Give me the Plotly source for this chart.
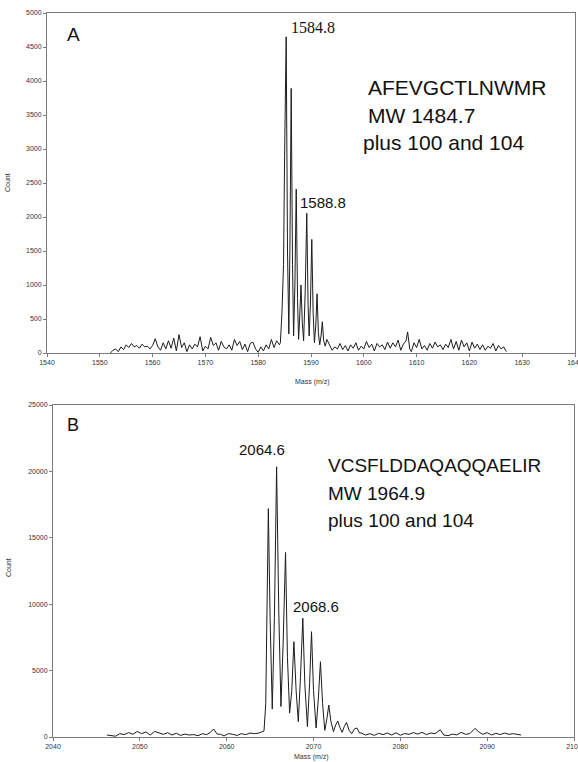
import plotly.graph_objects as go

# ---------------- Panel A data (m/z vs count) ----------------
mass_a = [
    1552.0, 1552.5, 1553.0, 1553.5, 1554.0, 1554.5, 1555.0, 1555.5, 1556.0, 1556.5,
    1557.0, 1557.5, 1558.0, 1558.5, 1559.0, 1559.5, 1560.0, 1560.5, 1561.0, 1561.5,
    1562.0, 1562.5, 1563.0, 1563.5, 1564.0, 1564.5, 1565.0, 1565.5, 1566.0, 1566.5,
    1567.0, 1567.5, 1568.0, 1568.5, 1569.0, 1569.5, 1570.0, 1570.5, 1571.0, 1571.5,
    1572.0, 1572.5, 1573.0, 1573.5, 1574.0, 1574.5, 1575.0, 1575.5, 1576.0, 1576.5,
    1577.0, 1577.5, 1578.0, 1578.5, 1579.0, 1579.5, 1580.0, 1580.5, 1581.0, 1581.5,
    1582.0, 1582.5, 1583.0, 1583.5, 1584.0,
    1584.2, 1584.5, 1584.8, 1585.0, 1585.3, 1585.55, 1585.8, 1586.0, 1586.25, 1586.5,
    1586.7, 1586.95, 1587.2, 1587.45, 1587.65, 1587.85, 1588.1, 1588.35, 1588.6, 1588.9,
    1589.2, 1589.45, 1589.65, 1589.9, 1590.15, 1590.4, 1590.65, 1590.9, 1591.15, 1591.4,
    1591.65, 1591.9, 1592.15, 1592.4, 1592.7, 1593.0,
    1593.5, 1594.0, 1594.5, 1595.0, 1595.5, 1596.0, 1596.5, 1597.0, 1597.5, 1598.0,
    1598.5, 1599.0, 1599.5, 1600.0, 1600.5, 1601.0, 1601.5, 1602.0, 1602.5, 1603.0,
    1603.5, 1604.0, 1604.5, 1605.0, 1605.5, 1606.0, 1606.5, 1607.0, 1607.5, 1608.0,
    1608.3, 1608.7, 1609.0, 1609.5, 1610.0, 1610.5, 1611.0, 1611.5, 1612.0, 1612.5,
    1613.0, 1613.5, 1614.0, 1614.5, 1615.0, 1615.5, 1616.0, 1616.5, 1617.0, 1617.5,
    1618.0, 1618.5, 1619.0, 1619.5, 1620.0, 1620.5, 1621.0, 1621.5, 1622.0, 1622.5,
    1623.0, 1623.5, 1624.0, 1624.5, 1625.0, 1625.5, 1626.0, 1626.5, 1627.0,
]
count_a = [
    0, 40, 60, 20, 90, 50, 120, 80, 140, 90,
    110, 70, 130, 90, 100, 60, 110, 210, 90, 40,
    150, 60, 180, 70, 220, 30, 270, 80, 150, 20,
    120, 60, 130, 90, 240, 30, 100, 60, 230, 110,
    150, 40, 170, 90, 60, 120, 40, 200, 110, 170,
    50, 130, 20, 140, 160, 60, 10, 90, 30, 120,
    60, 200, 80, 180, 120,
    150, 600, 1300, 2900, 4650, 1500, 280, 1500, 3890, 1300,
    250, 1000, 2410, 800, 200, 500, 1000, 450, 180, 900,
    2055, 700, 250, 750, 1670, 600, 150, 400, 870, 300,
    120, 250, 460, 180, 100, 200,
    120, 40, 90, 60, 140, 50, 110, 30, 120, 70,
    150, 40, 100, 60, 170, 80, 130, 30, 140, 90,
    120, 50, 160, 70, 150, 90, 190, 40, 130, 180,
    310, 60, 20, 150, 80, 200, 60, 110, 40, 140,
    70, 160, 90, 120, 50, 130, 80, 200, 60, 170,
    40, 190, 90, 150, 30, 160, 70, 130, 50, 120,
    40, 100, 70, 140, 30, 110, 60, 90, 20,
]

# ---------------- Panel B data (m/z vs count) ----------------
mass_b = [
    2046.2, 2046.7, 2047.2, 2047.7, 2048.2, 2048.7, 2049.2, 2049.7, 2050.2, 2050.7,
    2051.2, 2051.7, 2052.2, 2052.7, 2053.2, 2053.7, 2054.2, 2054.7, 2055.2, 2055.7,
    2056.2, 2056.7, 2057.2, 2057.7, 2058.1, 2058.5, 2058.9, 2059.3, 2059.7, 2060.2,
    2060.7, 2061.2, 2061.7, 2062.2, 2062.7, 2063.2, 2063.7, 2064.1,
    2064.3, 2064.5, 2064.65, 2064.8, 2065.0, 2065.25, 2065.5, 2065.75, 2066.0, 2066.25,
    2066.5, 2066.78, 2067.0, 2067.25, 2067.5, 2067.74, 2068.0, 2068.25, 2068.5, 2068.77,
    2069.0, 2069.3, 2069.55, 2069.77, 2070.0, 2070.3, 2070.55, 2070.8, 2071.05, 2071.3,
    2071.55, 2071.76, 2072.0, 2072.3, 2072.55, 2072.8, 2073.05, 2073.3, 2073.55, 2073.8,
    2074.1, 2074.4, 2074.7, 2075.0, 2075.3,
    2075.5, 2076.0, 2076.5, 2077.0, 2077.5, 2078.0, 2078.5, 2079.0, 2079.5, 2080.0,
    2080.5, 2081.0, 2081.5, 2082.0, 2082.5, 2083.0, 2083.5, 2084.0, 2084.6, 2085.0,
    2085.5, 2086.0, 2086.5, 2087.0, 2087.5, 2088.0, 2088.6, 2089.0, 2089.5, 2090.0,
    2090.5, 2091.0, 2091.5, 2092.0, 2092.5, 2093.0, 2093.5, 2093.9,
]
count_b = [
    150, 120, 60, 250, 180, 330, 200, 420, 250, 380,
    150, 420, 300, 200, 320, 150, 280, 120, 220, 150,
    180, 100, 250, 180, 330, 600, 220, 200, 80, 260,
    200, 120, 250, 180, 300, 250, 300, 400,
    450, 2500, 9000, 17200, 9000, 2100, 9000, 20350, 9500, 2300,
    7000, 13900, 6000, 1800, 3500, 7180, 3500, 1150, 4500, 8940,
    4000, 780, 4000, 7930, 3500, 680, 2800, 5670, 2500, 500,
    1400, 2410, 1200, 400, 900, 1200, 700, 350, 800, 1100,
    500, 250, 600, 680, 300,
    300, 150, 250, 120, 280, 180, 300, 150, 320, 130,
    260, 200, 330, 220, 350, 180, 300, 250, 550, 150,
    100, 220, 160, 350, 200, 250, 650, 400, 200, 330,
    150, 280, 180, 300, 200, 250, 180, 150,
]

W, H = 578, 762


def px(x):
    return x / W


def py(y):
    return 1 - y / H


SANS = "Liberation Sans, Arial, sans-serif"
SERIF = "Liberation Serif, Times New Roman, serif"

fig = go.Figure()
fig.add_trace(go.Scatter(x=mass_a, y=count_a, mode="lines",
                         line=dict(color="#1c1c1c", width=1),
                         xaxis="x", yaxis="y", showlegend=False, hoverinfo="skip"))
fig.add_trace(go.Scatter(x=mass_b, y=count_b, mode="lines",
                         line=dict(color="#1c1c1c", width=1),
                         xaxis="x2", yaxis="y2", showlegend=False, hoverinfo="skip"))

axis_common = dict(showgrid=False, zeroline=False, showline=True, linecolor="#7a7a7a",
                   linewidth=1, mirror=True, ticks="outside", ticklen=3,
                   tickcolor="#7a7a7a", tickwidth=1, automargin=False,
                   ticklabeloverflow="allow",
                   tickfont=dict(family=SANS, size=7, color="#333"), tickformat="d")

fig.update_layout(
    width=W, height=H, autosize=False,
    margin=dict(l=0, r=0, t=0, b=0, pad=0),
    paper_bgcolor="white", plot_bgcolor="white",
    xaxis=dict(domain=[px(47), px(575)], anchor="y", range=[1540, 1640],
               tick0=1540, dtick=10, **axis_common),
    yaxis=dict(domain=[py(353), py(13)], anchor="x", range=[0, 5000],
               tick0=0, dtick=500, **axis_common),
    xaxis2=dict(domain=[px(53), px(574)], anchor="y2", range=[2040, 2100],
                tick0=2040, dtick=10, **axis_common),
    yaxis2=dict(domain=[py(737), py(405)], anchor="x2", range=[0, 25000],
                tick0=0, dtick=5000, **axis_common),
)

ann = []


def add_text(text, x, y, size, family=SANS, xanchor="center", color="#111", angle=0):
    ann.append(dict(text=text, x=px(x), y=py(y), xref="paper", yref="paper",
                    showarrow=False, xanchor=xanchor, yanchor="middle",
                    textangle=angle,
                    font=dict(family=family, size=size, color=color)))


# Panel A texts
add_text("A", 73, 35, 19)
add_text("1584.8", 313, 28, 16, family=SERIF)
add_text("1588.8", 323, 202, 15)
add_text("AFEVGCTLNWMR", 366, 88, 21, xanchor="left")
add_text("MW 1484.7", 366, 115, 21, xanchor="left")
add_text("plus 100 and 104", 361, 142, 21, xanchor="left")
add_text("Count", 7, 183, 7, color="#333", angle=-90)
add_text("Mass (m/z)", 312, 382, 7, color="#333")

# Panel B texts
add_text("B", 73, 425, 18)
add_text("2064.6", 262, 450, 15)
add_text("2068.6", 316, 606, 15)
add_text("VCSFLDDAQAQQAELIR", 326, 466, 19, xanchor="left")
add_text("MW 1964.9", 326, 493, 19, xanchor="left")
add_text("plus 100 and 104", 326, 520, 19, xanchor="left")
add_text("Count", 8, 568, 7, color="#333", angle=-90)
add_text("Mass (m/z)", 311, 757, 7, color="#333")

fig.update_layout(annotations=ann)

fig.write_html("out.html")
